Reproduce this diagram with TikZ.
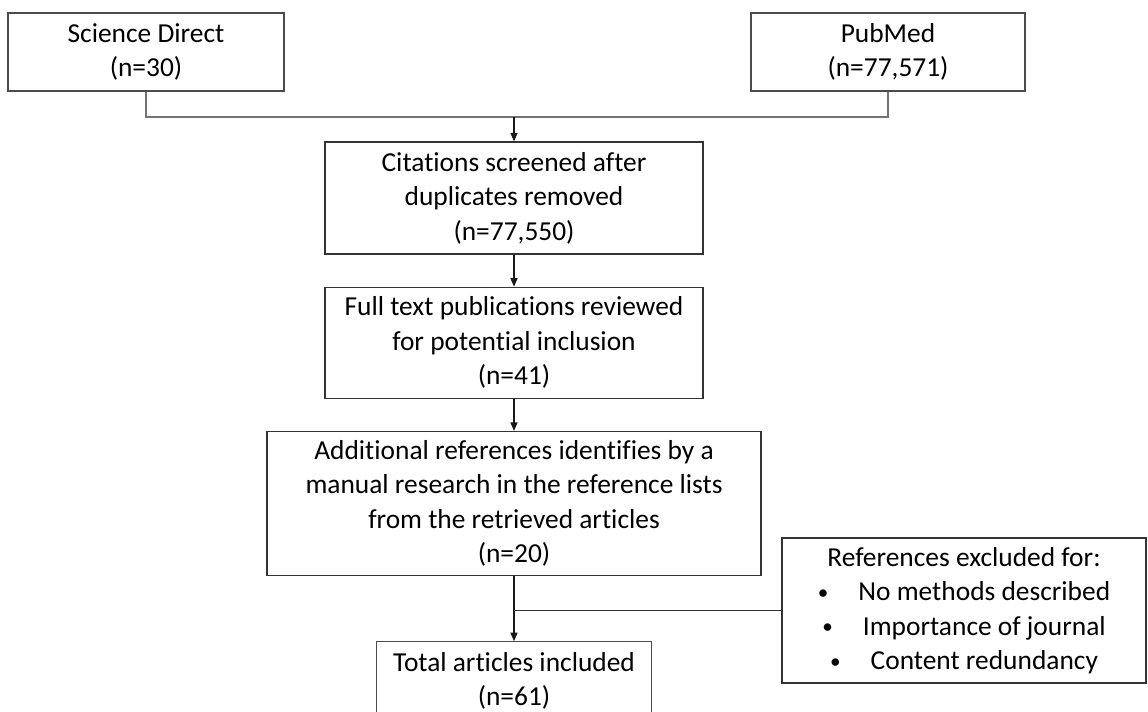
\documentclass[tikz,border=0pt]{standalone}
\usepackage{xcolor}
\usepackage{fontspec}
\setmainfont[Ligatures={NoCommon}]{Carlito}
\usepackage{tikz}
\usetikzlibrary{arrows.meta, positioning}
\newcommand{\smallbullet}{{\fontsize{15}{15}\selectfont\raisebox{1pt}{\textbullet}}\hspace{1.1em}}
\tikzset{
    source/.style={rectangle, draw=black!70, line width=0.9pt, align=center, minimum height=1.95cm, font=\fontsize{19.5}{24.5}\selectfont},
    process/.style={rectangle, draw=black!80, line width=0.9pt, align=center, minimum width=9.45cm, minimum height=2.8cm, font=\fontsize{19.5}{24.5}\selectfont},
    link/.style={draw=black!55, line width=0.9pt},
    arrow/.style={-{Triangle[length=6pt, width=5pt]}, line width=0.8pt, black!90}
}
\begin{document}
\begin{tikzpicture}
            \clip (0,0) rectangle (28.7,-17.775);
            \node (sd) [source, minimum width=6.9cm] at (3.65,-1.3) {Science Direct\\(n=30)};
            \node (pubmed) [source, minimum width=6.85cm] at (22.2,-1.3) {PubMed\\(n=77,571)};
            \coordinate (merge) at (12.85,-2.925);
            \node (cit) [process] at (12.85,-4.95) {Citations screened after\\duplicates removed\\(n=77,550)};
            \node (full) [process, minimum height=2.775cm, below=0.8cm of cit] {Full text publications reviewed\\for potential inclusion\\(n=41)};
            \node (addl) [process, minimum width=12.35cm, minimum height=3.6cm, below=0.8cm of full] {Additional references identifies by a\\manual research in the reference lists\\from the retrieved articles\\(n=20)};
            \node (total) [source, minimum width=6.875cm, below=1.625cm of addl] {Total articles included\\(n=61)};
            \node (excl) [process, minimum width=9.1cm, minimum height=3.625cm] at (24.1,-15.2625) {References excluded for:\\\smallbullet No methods described\\\smallbullet Importance of journal\\\smallbullet Content redundancy};

            % the two searches join above the screening box
            \draw[link] (sd.south) |- (merge) -| (pubmed.south);
            \draw[arrow] (merge) -- (cit);
            \draw[arrow] (cit) -- (full);
            \draw[arrow] (full) -- (addl);
            \draw[arrow] (addl) -- (total);
            \draw[line width=0.8pt, black!80] (excl.west) -- (excl.west -| addl.south);
        \end{tikzpicture}
\end{document}
